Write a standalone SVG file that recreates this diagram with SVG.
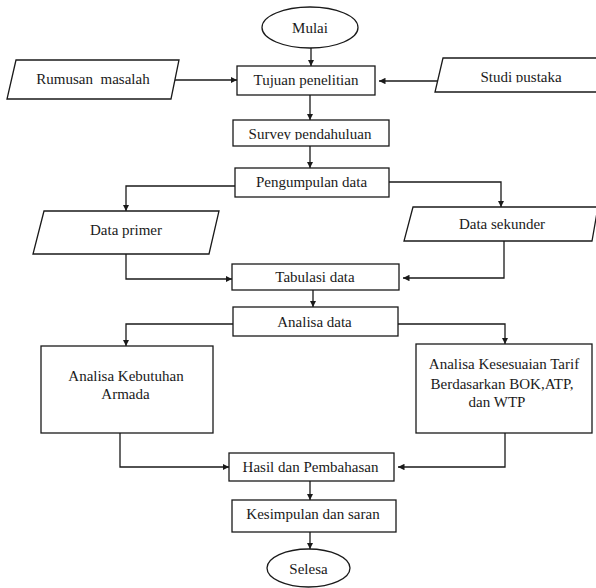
<svg xmlns="http://www.w3.org/2000/svg" width="596" height="588" viewBox="0 0 596 588">
<defs>
<style>
.s{fill:#fff;stroke:#1a1a1a;stroke-width:1.3}
.t{font-size:15px;fill:#1a1a1a;text-anchor:middle;white-space:pre}
.c{fill:none;stroke:#1a1a1a;stroke-width:1.3}
</style>
<marker id="ah" viewBox="0 0 10 10" refX="10" refY="5" markerWidth="6.5" markerHeight="6.5" orient="auto" markerUnits="userSpaceOnUse">
<path d="M0,0 L10,5 L0,10 z" fill="#1a1a1a"/>
</marker>
<clipPath id="clipSurvey"><rect x="230" y="118" width="160" height="22"/></clipPath>
<clipPath id="clipStudi"><rect x="440" y="56" width="156" height="26.5"/></clipPath>
</defs>
<rect width="596" height="588" fill="#fff"/>

<g id="connectors">
<path class="c" d="M311,48 V66" marker-end="url(#ah)"/>
<path class="c" d="M175,80 H237" marker-end="url(#ah)"/>
<path class="c" d="M438,81 H379" marker-end="url(#ah)"/>
<path class="c" d="M310,95 V120" marker-end="url(#ah)"/>
<path class="c" d="M310,146 V168" marker-end="url(#ah)"/>
<path class="c" d="M235,186 H126 V211" marker-end="url(#ah)"/>
<path class="c" d="M389,182 H501 V207" marker-end="url(#ah)"/>
<path class="c" d="M126,254 V279 H232" marker-end="url(#ah)"/>
<path class="c" d="M504,241 V278 H403" marker-end="url(#ah)"/>
<path class="c" d="M313,290 V307" marker-end="url(#ah)"/>
<path class="c" d="M233,324 H126 V346" marker-end="url(#ah)"/>
<path class="c" d="M398,324 H505 V344" marker-end="url(#ah)"/>
<path class="c" d="M120,433 V467 H229" marker-end="url(#ah)"/>
<path class="c" d="M505,433 V467 H398" marker-end="url(#ah)"/>
<path class="c" d="M310,481 V500" marker-end="url(#ah)"/>
<path class="c" d="M310,532 V549" marker-end="url(#ah)"/>
</g>

<g font-family="'Liberation Serif', 'DejaVu Serif', serif">
<g id="mulai">
<ellipse class="s" cx="310" cy="27.5" rx="48" ry="20.5"/>
<text class="t" x="310" y="32.5">Mulai</text>
</g>
<g id="rumusan">
<polygon class="s" points="16,60 179,60 171,99 7,99"/>
<text class="t" x="93" y="83.5">Rumusan  masalah</text>
</g>
<g id="tujuan">
<rect class="s" x="237" y="66" width="138" height="29"/>
<text class="t" x="306" y="85">Tujuan penelitian</text>
</g>
<g id="studi">
<polygon class="s" points="443,58 600,58 600,92 435,92"/>
<text class="t" x="521" y="81.7" clip-path="url(#clipStudi)">Studi pustaka</text>
</g>
<g id="survey">
<rect class="s" x="233" y="120" width="156" height="26"/>
<text class="t" x="310" y="139" clip-path="url(#clipSurvey)">Survey pendahuluan</text>
</g>
<g id="pengumpulan">
<rect class="s" x="235" y="168" width="154" height="29"/>
<text class="t" x="311.5" y="187">Pengumpulan data</text>
</g>
<g id="dataprimer">
<polygon class="s" points="44,211 219,211 209,254 33,254"/>
<text class="t" x="126" y="235">Data primer</text>
</g>
<g id="datasekunder">
<polygon class="s" points="413,207 598,207 592,241 404,241"/>
<text class="t" x="502" y="229">Data sekunder</text>
</g>
<g id="tabulasi">
<rect class="s" x="232" y="264" width="167" height="26"/>
<text class="t" x="315" y="282">Tabulasi data</text>
</g>
<g id="analisa">
<rect class="s" x="233" y="307" width="165" height="29"/>
<text class="t" x="314.5" y="327">Analisa data</text>
</g>
<g id="kebutuhan">
<rect class="s" x="41" y="346" width="172" height="87"/>
<text class="t" x="126" y="381">Analisa Kebutuhan</text>
<text class="t" x="125.5" y="399">Armada</text>
</g>
<g id="kesesuaian">
<rect class="s" x="416" y="344" width="176" height="89"/>
<text class="t" x="504" y="369">Analisa Kesesuaian Tarif</text>
<text class="t" x="502" y="389">Berdasarkan BOK,ATP,</text>
<text class="t" x="497" y="407">dan WTP</text>
</g>
<g id="hasil">
<rect class="s" x="229" y="453" width="165" height="28"/>
<text class="t" x="310.5" y="472">Hasil dan Pembahasan</text>
</g>
<g id="kesimpulan">
<rect class="s" x="232" y="500" width="164" height="32"/>
<text class="t" x="313" y="519">Kesimpulan dan saran</text>
</g>
<g id="selesa">
<ellipse class="s" cx="308.5" cy="568" rx="41.5" ry="19"/>
<text class="t" x="308.5" y="574">Selesa</text>
</g>
</g>
</svg>
